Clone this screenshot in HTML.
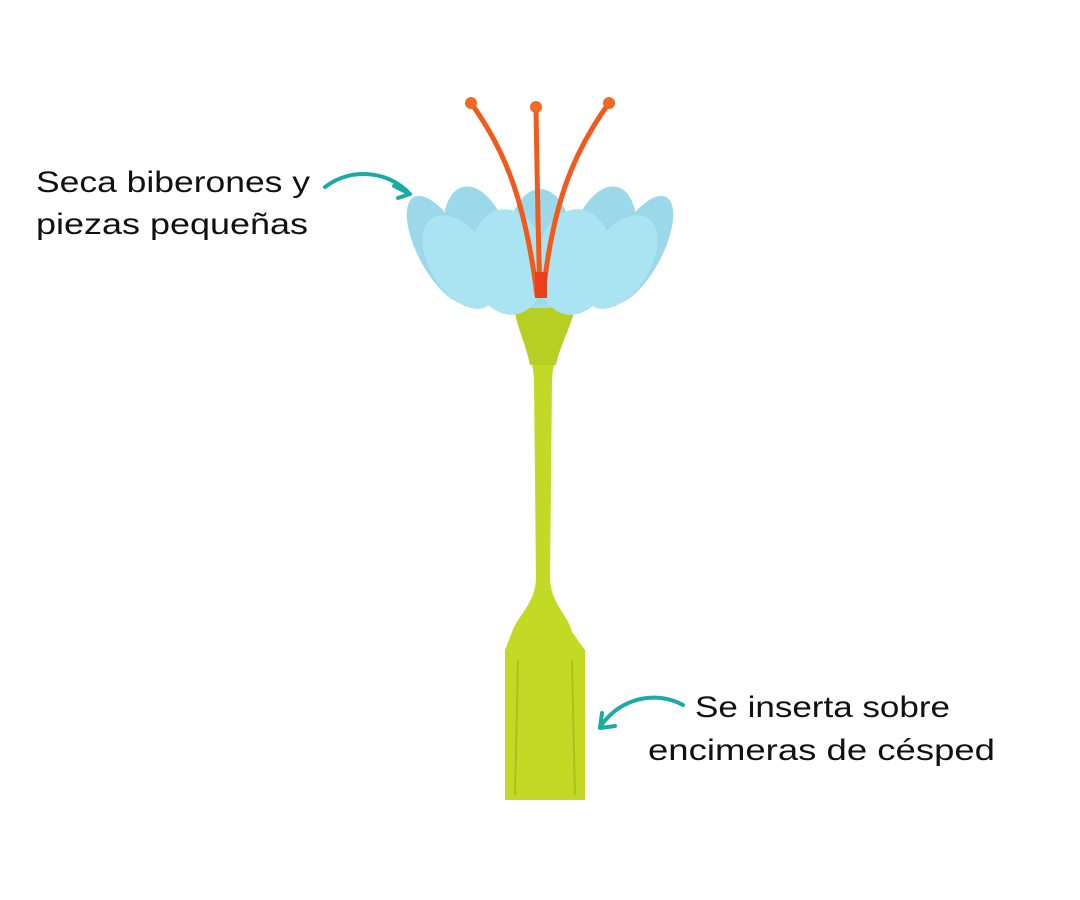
<!DOCTYPE html>
<html><head><meta charset="utf-8"><style>
html,body{margin:0;padding:0;background:#fff;width:1080px;height:900px;overflow:hidden}
svg{display:block}
text{font-family:"Liberation Sans",sans-serif;font-size:30px;fill:#111}
</style></head><body>
<svg width="1080" height="900" viewBox="0 0 1080 900">
<!-- stem -->
<path d="M513,305 L576,305 C566,340 553,355 552,380 L550,580 C552,605 568,615 572,632 L585,650 L585,800 L505,800 L505,650 L512,632 C518,615 534,605 536,580 L534,380 C533,355 522,340 513,305 Z" fill="#c2da26"/>
<path d="M513,305 L576,305 C570,330 560,345 556,365 L530,365 C526,345 518,330 513,305Z" fill="#b6cf22"/>
<path d="M518,660 L515,795 M572,660 L575,795" stroke="#a9c21c" stroke-width="2" fill="none"/>
<!-- bowl base -->
<path d="M425,215 C440,280 490,308 540,308 C590,308 640,280 660,215 Z" fill="#a3def0"/>
<!-- petals back -->
<g fill="#9ad8ea">
<ellipse cx="442" cy="250" rx="24" ry="60" transform="rotate(-28 442 250)"/>
<ellipse cx="638" cy="250" rx="24" ry="60" transform="rotate(28 638 250)"/>
<ellipse cx="478" cy="245" rx="32" ry="60" transform="rotate(-15 478 245)"/>
<ellipse cx="602" cy="245" rx="32" ry="60" transform="rotate(15 602 245)"/>
<ellipse cx="540" cy="247" rx="33" ry="58"/>
</g>
<g fill="#aae3f1">
<ellipse cx="460" cy="262" rx="30" ry="52" transform="rotate(-32 460 262)"/>
<ellipse cx="620" cy="262" rx="30" ry="52" transform="rotate(32 620 262)"/>
<ellipse cx="508" cy="262" rx="38" ry="53" transform="rotate(-7 508 262)"/>
<ellipse cx="574" cy="262" rx="38" ry="53" transform="rotate(7 574 262)"/>
</g>
<!-- stamens -->
<g stroke="#f05a1c" stroke-width="5" fill="none" stroke-linecap="round">
<path d="M471,103 C505,150 525,200 537,295"/>
<path d="M536,107 C537,170 538,230 540,295"/>
<path d="M609,103 C575,150 553,200 543,295"/>
</g>
<g fill="#f06a22"><circle cx="471" cy="103" r="6"/><circle cx="536" cy="107" r="6"/><circle cx="609" cy="103" r="6"/></g>
<rect x="535" y="272" width="12" height="26" fill="#e8401a"/>
<!-- arrows -->
<g stroke="#1aaba5" stroke-width="4" fill="none" stroke-linecap="round" stroke-linejoin="round">
<path d="M325,187 C350,168 385,170 408,192"/>
<path d="M394,186 L410,194 L398,198"/>
<path d="M683,705 C655,690 620,698 600,727"/>
<path d="M602,713 L600,728 L615,726"/>
</g>
<text x="36" y="192" textLength="274" lengthAdjust="spacingAndGlyphs">Seca biberones y</text>
<text x="36" y="234" textLength="272" lengthAdjust="spacingAndGlyphs">piezas pequeñas</text>
<text x="695" y="717" textLength="255" lengthAdjust="spacingAndGlyphs">Se inserta sobre</text>
<text x="648" y="760" textLength="347" lengthAdjust="spacingAndGlyphs">encimeras de césped</text>
</svg>
</body></html>
